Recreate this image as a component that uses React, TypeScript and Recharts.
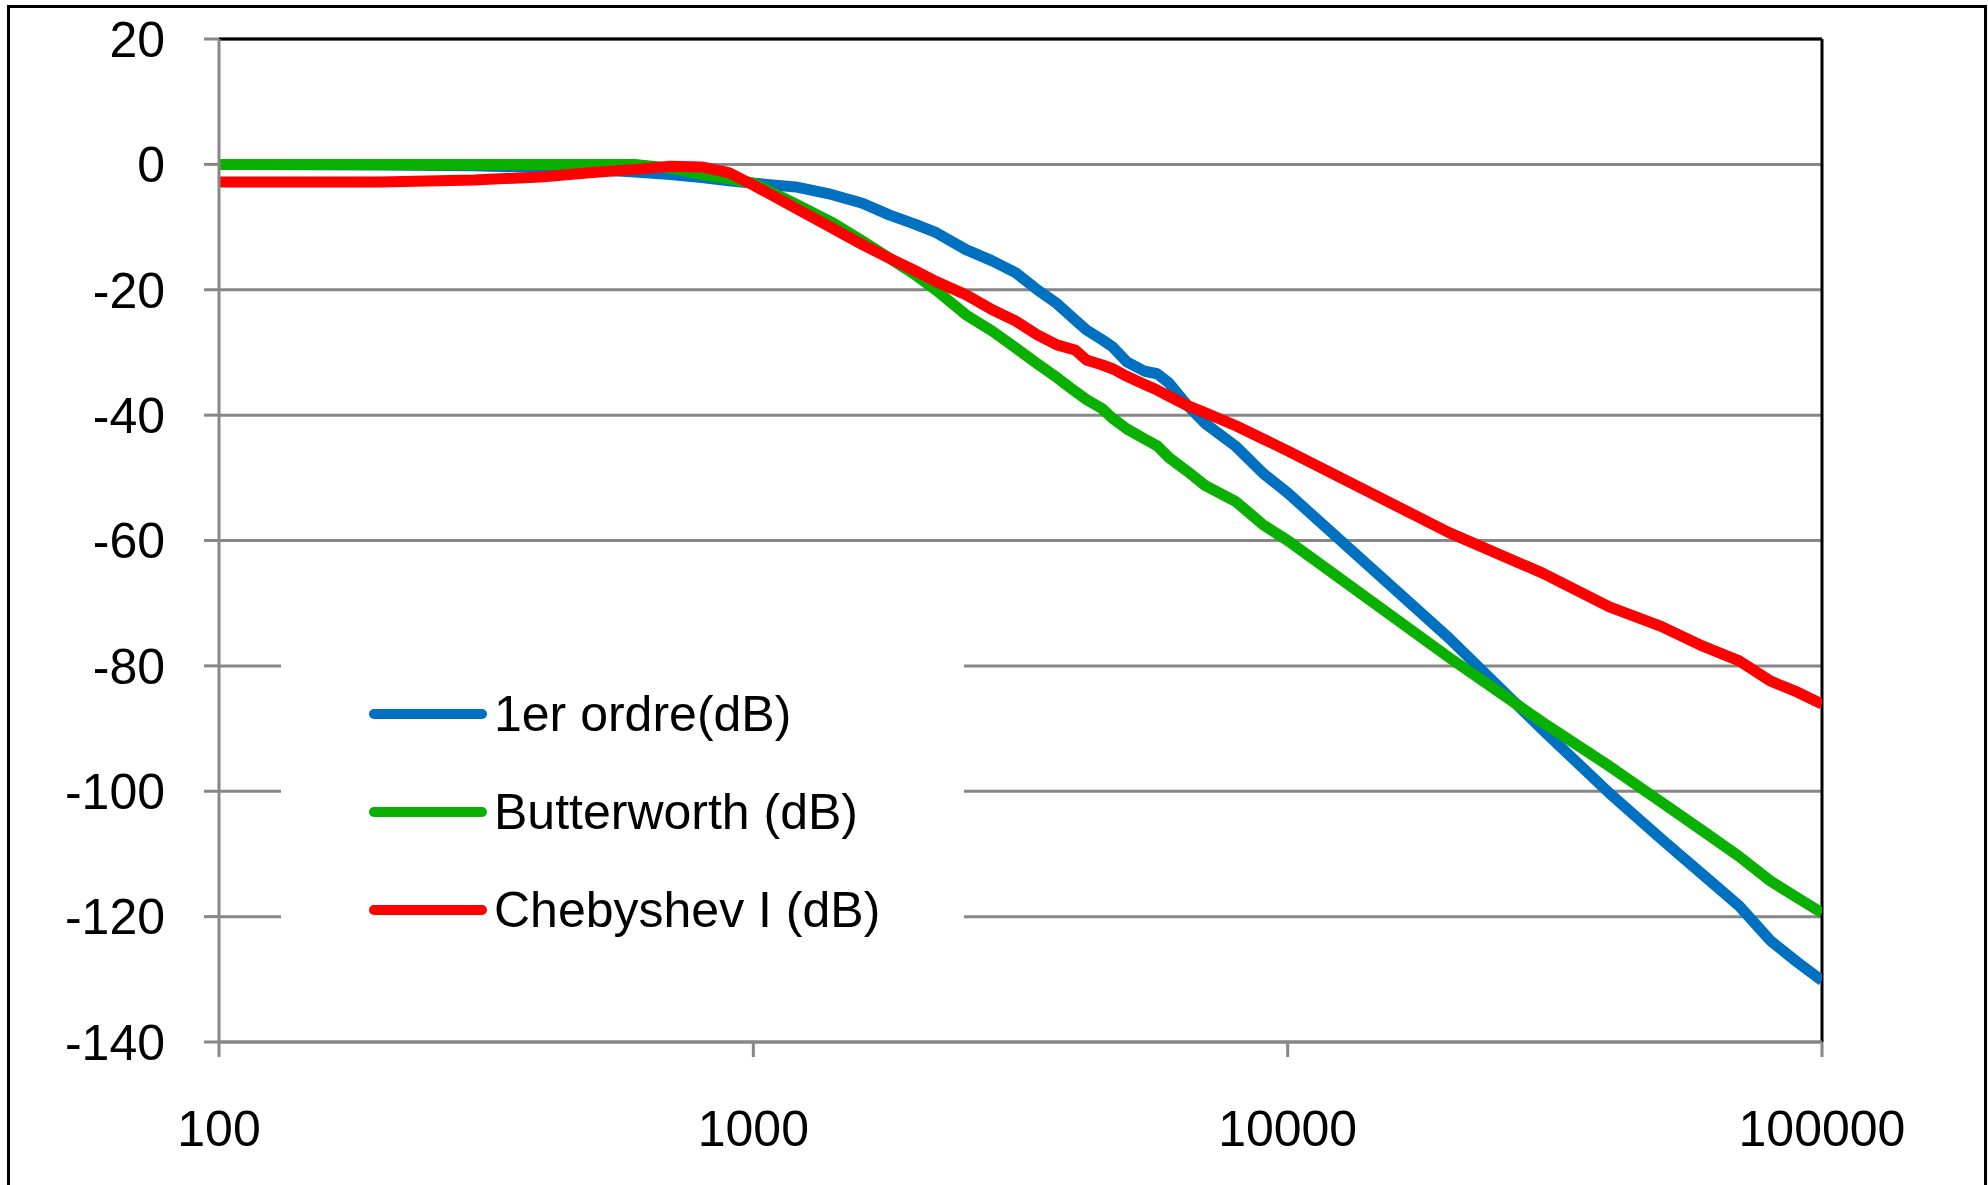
import React from 'react';
import { LineChart, Line, XAxis, YAxis, CartesianGrid, ReferenceLine, Legend } from 'recharts';

const FONT = "'Liberation Sans', Arial, sans-serif";

const frequencies = [
  100, 200, 300, 400, 500, 600, 700, 800, 900, 1000,
  1200, 1400, 1600, 1800, 2000, 2200, 2500, 2800, 3100, 3400,
  3700, 4000, 4200, 4500, 4700, 5000, 5400, 5700, 6000, 6500,
  7000, 8000, 9000, 10000, 20000, 30000, 40000, 50000, 60000, 70000,
  80000, 90000, 100000,
];

const firstOrderDb = [
  0, -0.1, -0.2, -0.5, -0.8, -1.2, -1.6, -2.1, -2.6, -3.0,
  -3.6, -4.8, -6.2, -8.1, -9.5, -10.9, -13.6, -15.4, -17.3, -20.0,
  -22.2, -24.8, -26.4, -28.0, -29.1, -31.5, -33.0, -33.4, -34.9, -38.5,
  -41.3, -45.0, -49.3, -52.4, -75.5, -90.2, -100.3, -107.6, -113.4, -118.3,
  -123.8, -127.3, -130.2,
];

const butterworthDb = [
  0, 0, 0, 0, 0, 0, -0.6, -1.6, -2.3, -3.0,
  -6.3, -9.2, -12.2, -15.0, -17.5, -20.1, -24.0, -26.6, -29.3, -31.8,
  -34.0, -36.2, -37.5, -39.0, -40.5, -42.2, -43.8, -44.9, -46.8, -49.0,
  -51.2, -53.8, -57.5, -60.0, -78.6, -89.0, -96.0, -101.7, -106.4, -110.4,
  -114.3, -117.0, -119.4,
];

const chebyshevDb = [
  -2.8, -2.8, -2.5, -2.0, -1.3, -0.8, -0.3, -0.4, -1.3, -3.3,
  -7.0, -10.1, -12.8, -15.0, -16.9, -18.7, -20.8, -23.2, -25.0, -27.2,
  -28.8, -29.6, -31.2, -32.0, -32.6, -33.8, -35.1, -36.0, -37.0, -38.5,
  -39.6, -41.7, -43.8, -45.7, -58.7, -65.2, -70.6, -73.7, -76.9, -79.2,
  -82.4, -84.2, -86.1,
];

const xTicks = [100, 1000, 10000, 100000];
const yTicks = [20, 0, -20, -40, -60, -80, -100, -120, -140];

const seriesKeys = ['first', 'butter', 'cheby'];
const seriesNames = ['1er ordre(dB)', 'Butterworth (dB)', 'Chebyshev I (dB)'];
const seriesColors = ['#0070C0', '#0AB000', '#FF0000'];

const data = frequencies.map((f, i) => ({
  f,
  first: firstOrderDb[i],
  butter: butterworthDb[i],
  cheby: chebyshevDb[i],
}));

const LegendBox = () => (
  <div style={{ width: 683, height: 336, background: '#ffffff' }}>
    <svg width={683} height={336}>
      {seriesNames.map((n, i) => {
        const y = 93 + i * 98;
        return (
          <g key={n}>
            <line x1={93} x2={201} y1={y} y2={y} stroke={seriesColors[i]} strokeWidth={10} strokeLinecap="round" />
            <text x={213} y={y} dominantBaseline="central" fontSize={50} fontFamily={FONT} fill="#000">
              {n}
            </text>
          </g>
        );
      })}
    </svg>
  </div>
);

export default function App() {
  return (
    <div style={{ position: 'absolute', left: 0, top: 0, width: 1988, height: 1185, overflow: 'hidden', background: '#fff' }}>
      <LineChart
        width={1988}
        height={1185}
        data={data}
        margin={{ top: 39, right: 166, bottom: 43, left: 159 }}
      >
        <CartesianGrid horizontal vertical={false} stroke="#878787" strokeWidth={3} />
        <XAxis
          dataKey="f"
          type="number"
          scale="log"
          domain={[100, 100000]}
          ticks={xTicks}
          allowDataOverflow
          height={100}
          stroke="#878787"
          strokeWidth={3}
          tickSize={15}
          tickMargin={53}
          tick={{ fill: '#000', fontSize: 50, fontFamily: FONT }}
          tickLine={{ stroke: '#878787', strokeWidth: 3 }}
        />
        <YAxis
          type="number"
          domain={[-140, 20]}
          ticks={yTicks}
          allowDataOverflow
          width={60}
          stroke="#878787"
          strokeWidth={3}
          tickSize={15}
          tickMargin={39}
          tick={{ fill: '#000', fontSize: 50, fontFamily: FONT }}
          tickLine={{ stroke: '#878787', strokeWidth: 3 }}
        />
        <ReferenceLine y={20} stroke="#000" strokeWidth={3} />
        <ReferenceLine x={100000} stroke="#000" strokeWidth={3} />
        {seriesKeys.map((k, i) => (
          <Line
            key={k}
            type="linear"
            dataKey={k}
            name={seriesNames[i]}
            stroke={seriesColors[i]}
            strokeWidth={11}
            strokeLinejoin="round"
            dot={false}
            activeDot={false}
            isAnimationActive={false}
          />
        ))}
        <Legend
          layout="vertical"
          align="center"
          verticalAlign="middle"
          content={() => <LegendBox />}
          wrapperStyle={{ left: 281, top: 621, width: 683, height: 336 }}
        />
      </LineChart>
      <div
        style={{
          position: 'absolute',
          left: 7,
          top: 5,
          width: 1980,
          height: 1300,
          border: '3px solid #000',
          boxSizing: 'border-box',
          pointerEvents: 'none',
        }}
      />
    </div>
  );
}
